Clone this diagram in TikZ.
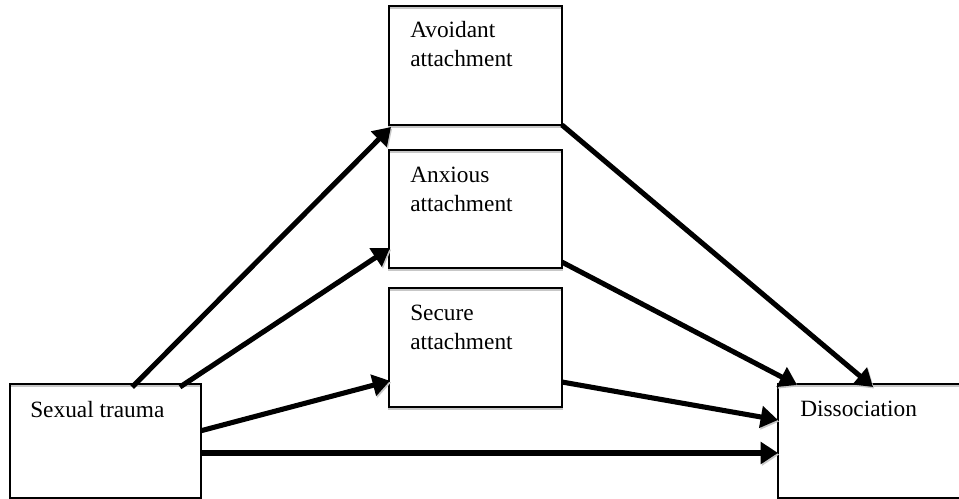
\documentclass[tikz,border=0pt]{standalone}
\usepackage{fontspec}
\setmainfont{Liberation Serif}
\usetikzlibrary{arrows.meta,calc}
\begin{document}
\begin{tikzpicture}[x=0.75pt,y=-0.75pt,
  box/.style={draw, line width=1.4pt, rectangle, inner sep=0pt, outer sep=0pt, anchor=north west,
    preaction={draw=black!22, line width=1.4pt, transform canvas={yshift=-1.4pt}}},
  lbl/.style={anchor=base west, inner sep=0pt, align=left,
    font=\fontsize{17.5}{21.75}\selectfont},
  link/.style={line width=3.8pt, -{Triangle[length=13pt,width=16pt]},
    preaction={draw=black!22, transform canvas={shift={(0.9pt,-1.2pt)}}}}]
\useasboundingbox (0,0) rectangle (959,499);
\clip (0,0) rectangle (959,499);

% variable boxes
\node[box, minimum width=129.75pt, minimum height=89.25pt] (avoid)  at (389,6)   {};
\node[box, minimum width=129.75pt, minimum height=88.5pt]  (anx)    at (389,150) {};
\node[box, minimum width=129.75pt, minimum height=89.25pt] (sec)    at (389,288) {};
\node[box, minimum width=143.25pt, minimum height=85.5pt]  (trauma) at (10,384)  {};
\node[box, minimum width=150pt,    minimum height=85.5pt]  (dissoc) at (778,384) {};

% box labels (two-line labels sit on the baseline of their second line)
\node[lbl] (avoidT)  at ($(avoid.north west)+(21,61)$)  {Avoidant\\attachment};
\node[lbl] (anxT)    at ($(anx.north west)+(21,61)$)    {Anxious\\attachment};
\node[lbl] (secT)    at ($(sec.north west)+(21,61)$)    {Secure\\attachment};
\node[lbl] (traumaT) at ($(trauma.north west)+(20,33)$) {Sexual trauma};
\node[lbl] (dissocT) at ($(dissoc.north west)+(22,32)$) {Dissociation};

% paths
\draw[link] ($(trauma.north west)!0.64!(trauma.north east)+(0,3)$) -- ($(avoid.south west)+(2,2)$);
\draw[link] ($(trauma.north west)!0.89!(trauma.north east)+(0,3)$) -- ($(anx.north west)!0.83!(anx.south west)+(1,0)$);
\draw[link] ($(trauma.north east)!0.41!(trauma.south east)$) -- ($(sec.north west)!0.78!(sec.south west)+(1,0)$);
\coordinate (direct) at ($(trauma.north east)!0.605!(trauma.south east)$);
\draw[link] (direct) -- (direct -| dissoc.west);
\draw[link] (avoid.south east) -- ($(dissoc.north west)+(95,3)$);
\draw[link] ($(anx.north east)!0.95!(anx.south east)$) -- ($(dissoc.north west)+(19,1)$);
\draw[link] ($(sec.north east)!0.79!(sec.south east)$) -- ($(dissoc.north west)+(0,36)$);
\end{tikzpicture}
\end{document}
